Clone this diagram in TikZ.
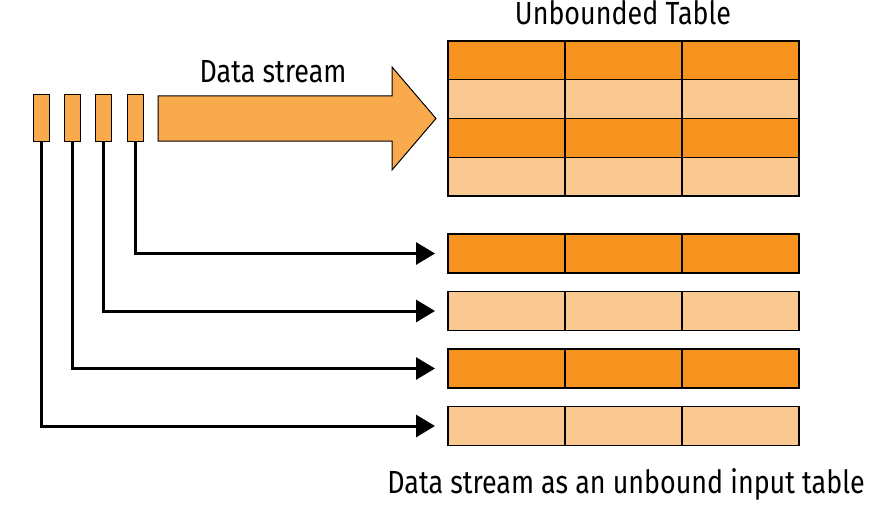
\documentclass[tikz,border=0pt]{standalone}
\usepackage{fontspec}
\setmainfont{Fira Sans}[FakeStretch=0.84]
\usetikzlibrary{arrows.meta}
\definecolor{darkor}{RGB}{247,148,32}
\definecolor{lightor}{RGB}{250,201,146}
\definecolor{midor}{RGB}{249,170,76}
\tikzset{
  cellbox/.style={draw=black, line width=1.3pt, minimum width=117pt, minimum height=#1, inner sep=0pt, outer sep=0pt, anchor=north west},
  darkcell/.style={cellbox=#1, fill=darkor},
  lightcell/.style={cellbox=#1, fill=lightor},
  itembox/.style={draw=black, line width=1pt, fill=midor, minimum width=16pt, minimum height=46pt, inner sep=0pt, outer sep=0pt, anchor=north west},
  connector/.style={line width=3pt, -{Triangle[length=19pt,width=22pt]}},
  label/.style={font=\fontsize{32}{34}\selectfont, anchor=base, inner sep=0pt}
}
\begin{document}
\begin{tikzpicture}[x=1pt,y=-1pt]
\useasboundingbox (0,0) rectangle (872,508);
% small items
\node[itembox] (i1) at (33,95) {};
\node[itembox] (i2) at (64,95) {};
\node[itembox] (i3) at (95,95) {};
\node[itembox] (i4) at (127,95) {};
% big arrow
\draw[fill=midor, line width=1pt, line join=miter] (158,96) -- (392,96) -- (392,67) -- (436,118.5) -- (392,170) -- (392,141) -- (158,141) -- cycle;
\node[label] (ds) at (273,83) {Data stream};
\node[label] (ut) at (623,25) {Unbounded Table};
% top table
\foreach \r/\y/\s in {1/41/darkcell, 2/79.75/lightcell, 3/118.5/darkcell, 4/157.25/lightcell}{
  \foreach \c/\x in {1/448, 2/565, 3/682}{
    \node[\s=38.75pt] (t\r\c) at (\x,\y) {};
  }
}
% bottom tables
\foreach \r/\y/\s in {1/234/darkcell, 2/291.5/lightcell, 3/349/darkcell, 4/406.5/lightcell}{
  \foreach \c/\x in {1/448, 2/565, 3/682}{
    \node[\s=39pt] (b\r\c) at (\x,\y) {};
  }
}
\node[label] (bt) at (626,493) {Data stream as an unbound input table};
% connectors
\draw[connector] (i4.south) |- ([xshift=-13pt]b11.west);
\draw[connector] (i3.south) |- ([xshift=-13pt]b21.west);
\draw[connector] (i2.south) |- ([xshift=-13pt]b31.west);
\draw[connector] (i1.south) |- ([xshift=-13pt]b41.west);
\end{tikzpicture}
\end{document}
